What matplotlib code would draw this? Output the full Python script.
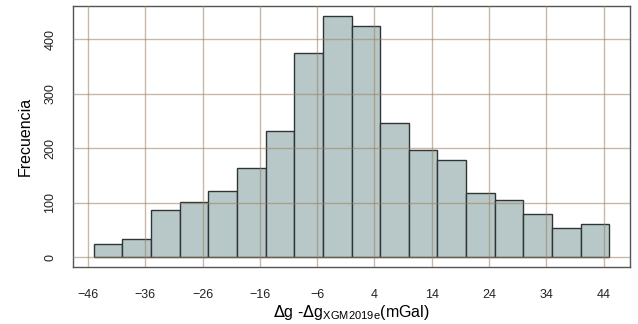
import numpy as np
import matplotlib
matplotlib.use('Agg')
import matplotlib.pyplot as plt

plt.rcParams['font.family'] = ['Liberation Sans', 'DejaVu Sans']

# histogram bins (mGal) and counts
bin_edges = [-45, -40, -35, -30, -25, -20, -15, -10, -5, 0, 5,
             10, 15, 20, 25, 30, 35, 40, 45]
counts = [24, 34, 86, 102, 121, 164, 231, 374, 443, 425,
          247, 197, 178, 118, 105, 79, 54, 62]
x_ticks = [-46, -36, -26, -16, -6, 4, 14, 24, 34, 44]
y_ticks = [0, 100, 200, 300, 400]

fig = plt.figure(figsize=(6.38, 3.24), dpi=100)
ax = fig.add_axes([0.1144, 0.176, 0.8731, 0.805])

edges = np.array(bin_edges, dtype=float)
ax.bar(edges[:-1], counts, width=np.diff(edges), align='edge',
       color='#b8c8c8', edgecolor='#2f3535', linewidth=1.0, zorder=2)

# grid sits on top of the bars, semi-transparent like the original
for xv in x_ticks:
    ax.axvline(xv, color='#9a8060', alpha=0.55, linewidth=1.0, zorder=3)
for yv in y_ticks:
    ax.axhline(yv, color='#9a8060', alpha=0.55, linewidth=1.0, zorder=3)

ax.set_xlim(-48.6, 48.6)
ax.set_ylim(-17.7, 460.7)
ax.set_xticks(x_ticks)
ax.set_yticks(y_ticks)
ax.set_yticklabels([str(v) for v in y_ticks], rotation=90, va='center')
ax.tick_params(axis='both', length=0, labelsize=9, colors='#222222')
ax.tick_params(axis='x', pad=16)
ax.tick_params(axis='y', pad=12)

for s in ax.spines.values():
    s.set_color('#555555')
    s.set_linewidth(1.0)

ax.set_ylabel('Frecuencia', fontsize=11.5, labelpad=8)
ax.set_xlabel(r'$\Delta$g -$\Delta$g$_{\mathregular{XGM2019e}}$(mGal)',
              fontsize=11.5, labelpad=1)

fig.savefig('out.png', dpi=100)
